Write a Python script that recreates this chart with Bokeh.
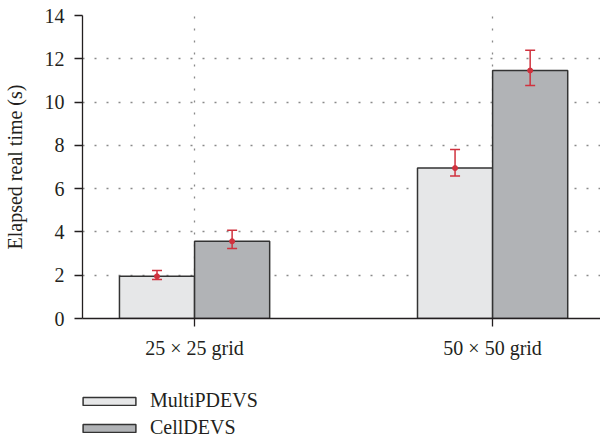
from bokeh.plotting import figure
from bokeh.layouts import column
from bokeh.models import (ColumnDataSource, Range1d, FixedTicker, Whisker, TeeHead,
                          Legend, LegendItem)
from bokeh.transform import dodge
from bokeh.embed import file_html
from bokeh.resources import INLINE

groups = ["25 × 25 grid", "50 × 50 grid"]
multi = [1.95, 6.95]
multi_lo = [1.80, 6.58]
multi_hi = [2.22, 7.81]
cell = [3.57, 11.46]
cell_lo = [3.23, 10.77]
cell_hi = [4.08, 12.40]
y_ticks = [0, 2, 4, 6, 8, 10, 12, 14]
series_names = ["MultiPDEVS", "CellDEVS"]

FONT = "Liberation Serif"
FS = "20px"
C_MULTI = "#e6e7e8"
C_CELL = "#b1b3b6"
EDGE = "#333333"
idx = list(range(len(groups)))
src = ColumnDataSource(dict(x=idx, multi=multi, multi_lo=multi_lo, multi_hi=multi_hi,
                            cell=cell, cell_lo=cell_lo, cell_hi=cell_hi))

p = figure(width=600, height=370, output_backend="svg", toolbar_location=None,
           x_range=Range1d(-0.376, 1.362), y_range=Range1d(0, 14),
           min_border_left=82, min_border_top=15, min_border_right=0, min_border_bottom=52)
p.outline_line_color = None

BW = 0.252
p.vbar(x=dodge("x", -0.126, range=p.x_range), top="multi", width=BW, source=src,
       fill_color=C_MULTI, line_color=EDGE, line_width=1.5)
p.vbar(x=dodge("x", 0.126, range=p.x_range), top="cell", width=BW, source=src,
       fill_color=C_CELL, line_color=EDGE, line_width=1.5)

RED = "#d0323e"
for off, lo, hi, mid in [(-0.126, "multi_lo", "multi_hi", "multi"), (0.126, "cell_lo", "cell_hi", "cell")]:
    w = Whisker(base=dodge("x", off, range=p.x_range), lower=lo, upper=hi, source=src,
                line_color=RED, line_width=1.5, level="overlay",
                upper_head=TeeHead(size=10, line_color=RED, line_width=1.5),
                lower_head=TeeHead(size=10, line_color=RED, line_width=1.5))
    p.add_layout(w)
    p.scatter(x=dodge("x", off, range=p.x_range), y=mid, source=src, size=5,
              fill_color=RED, line_color=RED, level="overlay")

# axes
p.xaxis.ticker = FixedTicker(ticks=idx)
p.xaxis.major_label_overrides = {i: g for i, g in zip(idx, groups)}
p.yaxis.ticker = FixedTicker(ticks=y_ticks)
for ax in (p.xaxis[0], p.yaxis[0]):
    ax.axis_line_color = "#231f20"
    ax.axis_line_width = 1.3
    ax.major_tick_line_color = "#231f20"
    ax.major_tick_line_width = 1.3
    ax.major_tick_in = 0
    ax.major_tick_out = 8
    ax.minor_tick_line_color = None
    ax.major_label_text_font = FONT
    ax.major_label_text_font_size = FS
    ax.major_label_text_color = "#231f20"
    ax.major_label_standoff = 10
p.yaxis.axis_label = "Elapsed real time (s)"
p.yaxis.axis_label_text_font = FONT
p.yaxis.axis_label_text_font_size = FS
p.yaxis.axis_label_text_font_style = "normal"
p.yaxis.axis_label_text_color = "#231f20"
p.yaxis.axis_label_standoff = 16

# grid
for g in (p.xgrid[0], p.ygrid[0]):
    g.grid_line_color = "#8a8a8a"
    g.grid_line_dash = "2 10"
    g.grid_line_width = 1.3

# legend in a strip below; its proxy bars are hidden renderers
lf = figure(width=600, height=68, output_backend="svg", toolbar_location=None,
            x_range=Range1d(-0.376, 1.362), y_range=Range1d(-3, -2),
            x_axis_type=None, y_axis_type=None,
            min_border_left=0, min_border_right=0, min_border_top=0, min_border_bottom=0)
lf.outline_line_color = None
lf.grid.visible = False
l1 = lf.vbar(x="x", top="multi", bottom=0, width=BW, source=src,
             fill_color=C_MULTI, line_color=EDGE, line_width=1.5)
l2 = lf.vbar(x="x", top="cell", bottom=0, width=BW, source=src,
             fill_color=C_CELL, line_color=EDGE, line_width=1.5)
l1.visible = False
l2.visible = False
legend = Legend(items=[LegendItem(label=series_names[0], renderers=[l1]),
                       LegendItem(label=series_names[1], renderers=[l2])],
                location=(-6, -1), orientation="vertical", click_policy="none",
                inactive_fill_alpha=0,
                glyph_width=66, glyph_height=10, label_height=20, spacing=4,
                label_standoff=8, padding=0, margin=0,
                border_line_color=None, background_fill_alpha=0,
                label_text_font=FONT, label_text_font_size=FS,
                label_text_color="#231f20")
lf.add_layout(legend, "center")

layout = column(p, lf, spacing=0)
open("out.html", "w").write(file_html(layout, INLINE))
